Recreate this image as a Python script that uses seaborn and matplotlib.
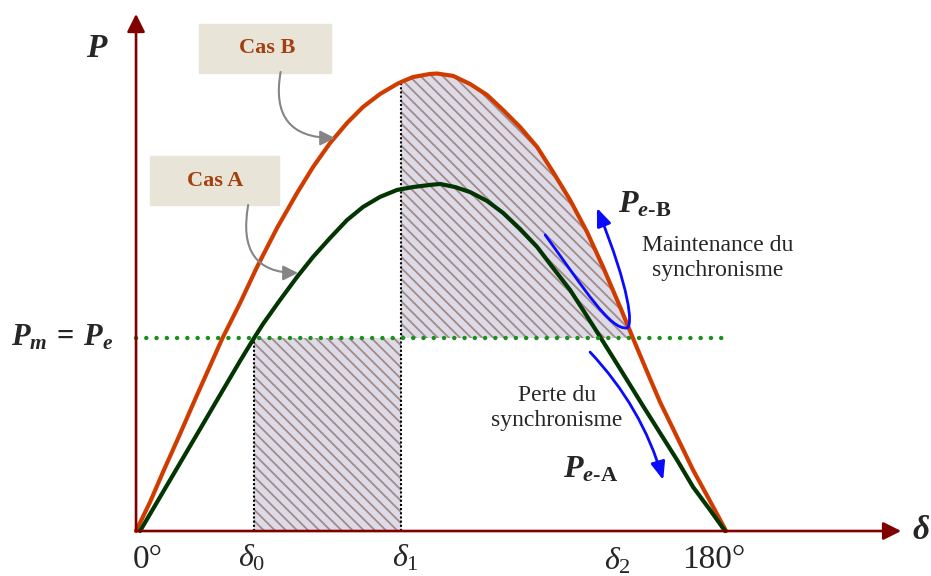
import pandas as pd
import matplotlib
matplotlib.use('Agg')
import matplotlib.pyplot as plt
import seaborn as sns
from matplotlib.patches import Rectangle, FancyArrowPatch
from matplotlib.path import Path

# Courbes P(delta) (delta en degres, P en p.u. avec Pm = 1)
delta_b = [0, 4.27, 8.24, 13.42, 18.61, 22.57, 26.24, 31.73, 36.91, 43.01,
           49.11, 54.00, 59.18, 64.37, 69.25, 74.43, 79.62, 80.84, 84.50, 89.69,
           91.82, 96.70, 101.89, 107.08, 111.96, 117.14, 122.33, 127.21, 132.40, 137.58,
           142.46, 147.65, 152.84, 156.19, 159.85, 165.04, 169.92, 175.10, 180]
p_b = [0, 0.150, 0.306, 0.503, 0.705, 0.855, 0.995, 1.181, 1.368, 1.570,
       1.751, 1.886, 2.010, 2.114, 2.197, 2.264, 2.316, 2.326, 2.352, 2.368,
       2.370, 2.358, 2.316, 2.259, 2.181, 2.093, 1.990, 1.860, 1.715, 1.549,
       1.368, 1.161, 0.948, 0.813, 0.668, 0.487, 0.316, 0.155, 0]

delta_a = [1.22, 7.32, 13.42, 19.52, 25.63, 31.73, 36.00, 38.74, 43.93, 49.11,
           54.00, 59.18, 64.37, 69.25, 74.43, 79.62, 84.50, 89.69, 92.74, 97.31,
           101.89, 107.08, 111.96, 117.14, 122.33, 127.21, 132.40, 136.36, 140.63, 145.21,
           149.78, 154.66, 159.85, 165.04, 169.92, 175.10, 179.68]
p_a = [0, 0.176, 0.352, 0.528, 0.705, 0.881, 1.000, 1.073, 1.197, 1.316,
       1.420, 1.518, 1.611, 1.679, 1.731, 1.767, 1.782, 1.793, 1.798, 1.782,
       1.756, 1.710, 1.648, 1.565, 1.472, 1.363, 1.249, 1.145, 1.031, 0.907,
       0.782, 0.648, 0.508, 0.368, 0.228, 0.109, 0]

pm = 1.0
delta0 = 36.0
delta1 = 80.84
p_delta1 = 2.326

curves = pd.concat([
    pd.DataFrame({'delta': delta_a, 'P': p_a, 'cas': 'Cas A'}),
    pd.DataFrame({'delta': delta_b, 'P': p_b, 'cas': 'Cas B'}),
], ignore_index=True)

sns.set_style('white')
plt.rcParams['font.family'] = ['Liberation Serif', 'DejaVu Serif']
plt.rcParams['mathtext.fontset'] = 'custom'
plt.rcParams['mathtext.rm'] = 'Liberation Serif'
plt.rcParams['mathtext.it'] = 'Liberation Serif:italic'
plt.rcParams['mathtext.bf'] = 'Liberation Serif:bold:italic'
plt.rcParams['mathtext.sf'] = 'Liberation Serif:bold'
plt.rcParams['hatch.linewidth'] = 1.3

fig = plt.figure(figsize=(9.31, 5.76), dpi=100)
ax = fig.add_axes([0, 0, 1, 1])
ax.set_xlim(-41.5, 242.5)
ax.set_ylim(-0.233, 2.751)
ax.axis('off')

# --- zones hachurees (aire acceleratrice / aire deceleratrice) ---
hatch_kw = dict(facecolor='#dcdbe7', edgecolor='#a38a85', hatch='\\\\\\', linewidth=0, zorder=1)
ax.fill_between([delta0, delta1], 0, pm, **hatch_kw)
right = curves[(curves['cas'] == 'Cas B') & (curves['delta'] >= delta1)]
ax.fill_between(right['delta'], pm, right['P'], where=right['P'] >= pm, interpolate=True, **hatch_kw)

ax.plot([delta0, delta0], [0, pm], color='black', lw=1.5, linestyle=(0, (1, 1)), zorder=2)
ax.plot([delta1, delta1], [0, p_delta1], color='black', lw=1.5, linestyle=(0, (1, 1)), zorder=2)

# --- courbes ---
sns.lineplot(data=curves, x='delta', y='P', hue='cas', hue_order=['Cas B', 'Cas A'],
             palette={'Cas A': '#033503', 'Cas B': '#d03c00'}, linewidth=3,
             estimator=None, sort=False, legend=False, ax=ax, zorder=3)

# ligne Pm = Pe
ax.plot([0, 180], [pm, pm], color='#1a8f1a', lw=3.2, linestyle=(0, (0.01, 2.3)),
        dash_capstyle='round', zorder=4)

# --- axes fleches ---
axis_kw = dict(arrowstyle='-|>,head_length=0.9,head_width=0.45', color='#800000', lw=1.9,
               shrinkA=0, shrinkB=0, mutation_scale=12)
ax.annotate('', xy=(0, 2.679), xytext=(0, 0), arrowprops=axis_kw, zorder=5)
ax.annotate('', xy=(233.4, 0), xytext=(0, 0), arrowprops=axis_kw, zorder=5)

ax.text(-11.9, 2.50, r'$\mathbf{P}$', fontsize=24, ha='center', va='center')
ax.text(239.5, 0.0, r'$\mathbf{\delta}$', fontsize=24, ha='center', va='center')
ax.text(-22.6, 1.0, r'$\mathbf{P}_{\mathbf{m}}\:\mathsf{=}\:\mathbf{P}_{\mathbf{e}}$', fontsize=22,
        ha='center', va='center')

ax.text(3.7, -0.15, '0°', fontsize=24, ha='center', va='center')
ax.text(176.3, -0.15, '180°', fontsize=24, ha='center', va='center')
ax.text(35.4, -0.14, r'$\delta_{\mathit{0}}$', fontsize=23, ha='center', va='center')
ax.text(82.1, -0.14, r'$\delta_{\mathit{1}}$', fontsize=23, ha='center', va='center')
ax.text(147.0, -0.155, r'$\delta_{\mathit{2}}$', fontsize=23, ha='center', va='center')

# --- etiquettes Cas A / Cas B ---
box_color = '#e8e5d8'
label_color = '#a3400f'
ax.add_patch(Rectangle((19.2, 2.373), 40.3, 0.254, color=box_color, zorder=2))
ax.text(40.1, 2.50, 'Cas B', fontsize=16, fontweight='bold', color=label_color,
        ha='center', va='center', zorder=3)
ax.add_patch(Rectangle((4.3, 1.689), 39.3, 0.254, color=box_color, zorder=2))
ax.text(24.1, 1.815, 'Cas A', fontsize=16, fontweight='bold', color=label_color,
        ha='center', va='center', zorder=3)

gray_kw = dict(arrowstyle='-|>,head_length=0.9,head_width=0.45', color='#858585', lw=1.5,
               connectionstyle='angle3,angleA=-100,angleB=0', shrinkA=0, shrinkB=0,
               mutation_scale=10)
ax.annotate('', xy=(60.7, 2.036), xytext=(44.1, 2.378), arrowprops=gray_kw, zorder=4)
ax.annotate('', xy=(49.4, 1.337), xytext=(34.2, 1.689), arrowprops=gray_kw, zorder=4)

# --- fleches bleues ---
blue = '#0a0aff'
u_path = Path([(124.8, 1.534), (137.0, 1.249), (144.6, 1.041), (149.8, 1.052),
               (151.6, 1.067), (150.7, 1.249), (140.6, 1.674)],
              [Path.MOVETO, Path.CURVE4, Path.CURVE4, Path.CURVE4,
               Path.CURVE4, Path.CURVE4, Path.CURVE4])
ax.add_patch(FancyArrowPatch(path=u_path, arrowstyle='-|>,head_length=0.9,head_width=0.36',
                             mutation_scale=12, color=blue, lw=2, zorder=6))
ax.annotate('', xy=(160.8, 0.264), xytext=(138.5, 0.927),
            arrowprops=dict(arrowstyle='-|>,head_length=0.9,head_width=0.36', color=blue, lw=2,
                            connectionstyle='arc3,rad=-0.12', shrinkA=0, shrinkB=0,
                            mutation_scale=12), zorder=6)

ax.text(147.0, 1.689, '$\\mathbf{P}_{\\mathbf{e}\\mathsf{\u2010B}}$', fontsize=23, ha='left', va='center')
ax.text(130.3, 0.316, '$\\mathbf{P}_{\\mathbf{e}\\mathsf{\u2010A}}$', fontsize=23, ha='left', va='center')
ax.text(177.5, 1.414, 'Maintenance du\nsynchronisme', fontsize=17, ha='center', va='center',
        linespacing=1.25)
ax.text(128.4, 0.637, 'Perte du\nsynchronisme', fontsize=17, ha='center', va='center',
        linespacing=1.25)

fig.savefig('out.png', dpi=100)
